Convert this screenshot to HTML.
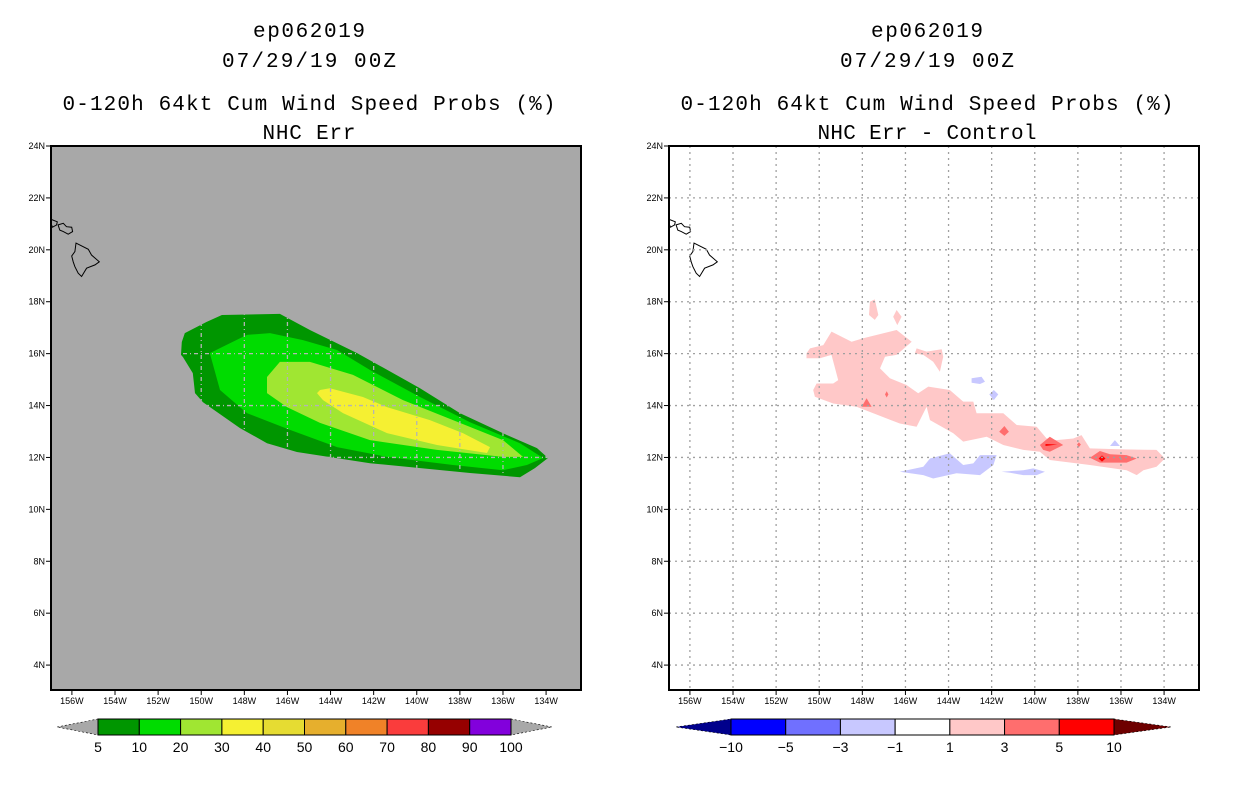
<!DOCTYPE html>
<html><head><meta charset="utf-8"><style>
html,body{margin:0;padding:0;background:#fff;}
svg{display:block;}
text{font-family:"Liberation Mono","DejaVu Sans Mono",monospace;fill:#000;}
.tk{font-family:"Liberation Sans",sans-serif;font-size:9px;}
.cb{font-family:"Liberation Sans",sans-serif;font-size:14px;}
</style></head><body>
<svg id="chart" width="1236" height="800" viewBox="0 0 1236 800" xmlns="http://www.w3.org/2000/svg">
<rect width="1236" height="800" fill="#fff"/>
<g text-anchor="middle" font-size="21">
<text x="309" y="37" textLength="112">ep062019</text>
<text x="309" y="67" textLength="174">07/29/19 00Z</text>
<text x="309" y="110" textLength="493">0-120h 64kt Cum Wind Speed Probs (%)</text>
<text x="309" y="139" textLength="93">NHC Err</text>
</g>
<g text-anchor="middle" font-size="21">
<text x="927" y="37" textLength="112">ep062019</text>
<text x="927" y="67" textLength="174">07/29/19 00Z</text>
<text x="927" y="110" textLength="493">0-120h 64kt Cum Wind Speed Probs (%)</text>
<text x="927" y="139" textLength="219">NHC Err - Control</text>
</g>
<g id="left"></g>
<g id="right"></g>
<g id="cbars"></g>
</svg>
<script>
// ---- data (lon in degrees W, lat in degrees N) ----
const lonTicks = [156,154,152,150,148,146,144,142,140,138,136,134];
const latTicks = [24,22,20,18,16,14,12,10,8,6,4];
const probLevels = ["5","10","20","30","40","50","60","70","80","90","100"];
const probColors = ["#009600","#00dc00","#a0e632","#f5f032","#e6dc32","#e6af2d","#f08228","#fa3c3c","#960000","#8200dc"];
const diffLevels = ["-10","-5","-3","-1","1","3","5","10"];
const diffColors = ["#0000ff","#7070ff","#c8c8ff","#ffffff","#ffc8c8","#ff6e6e","#ff0000"];
const prob5 = [[150.9,16.45],[150.76,16.79],[149.76,17.22],[149.04,17.49],[146.35,17.53],[144.96,16.91],[142.77,16.02],[139.85,14.67],[138.0,13.71],[135.81,12.86],[134.42,12.36],[133.91,11.98],[134.52,11.59],[135.21,11.24],[137.53,11.40],[142.17,11.78],[145.56,12.21],[146.95,12.55],[148.2,13.13],[149.92,14.13],[150.29,14.48],[150.39,15.25],[150.85,15.87],[150.94,15.95]];
const prob10 = [[146.81,16.79],[147.88,16.72],[149.6,16.02],[149.13,14.6],[147.88,13.71],[145.88,13.06],[143.7,12.4],[141.38,12.02],[138.32,11.71],[136.0,11.51],[134.89,11.71],[134.14,11.98],[135.21,12.55],[137.53,13.36],[139.85,14.33],[142.17,15.37],[143.7,16.14],[145.28,16.52]];
const prob20 = [[146.35,15.68],[146.95,15.10],[146.95,14.48],[146.02,13.94],[144.49,13.33],[142.17,12.67],[139.06,12.29],[136.0,12.02],[135.07,12.02],[136.0,12.67],[138.32,13.44],[140.64,14.21],[142.96,15.18],[144.96,15.68]];
const prob30 = [[144.63,14.48],[144.35,14.21],[143.42,13.71],[141.38,12.94],[139.06,12.48],[136.74,12.17],[136.6,12.4],[137.86,12.94],[139.39,13.44],[141.38,13.94],[142.5,14.33],[144.03,14.67],[144.49,14.6]];
const diffPos1 = [
[[150.59,16.01],[150.43,16.20],[149.81,16.33],[149.43,16.85],[148.5,16.46],[147.96,16.59],[146.41,16.91],[145.71,16.46],[146.41,15.95],[146.95,15.88],[147.18,15.43],[146.72,15.05],[145.95,14.79],[145.41,14.47],[144.94,14.73],[143.94,14.60],[143.32,14.15],[142.85,14.15],[142.7,13.70],[141.46,13.70],[140.84,13.25],[139.91,13.18],[139.45,12.73],[138.99,12.67],[138.21,12.73],[137.83,12.86],[137.44,12.35],[135.89,12.31],[134.35,12.29],[133.96,11.96],[134.35,11.64],[134.96,11.51],[135.27,11.32],[135.74,11.51],[137.44,11.71],[139.3,11.90],[139.76,12.22],[140.53,12.29],[141.46,12.48],[142.23,12.80],[143.32,12.61],[143.78,12.93],[144.86,13.44],[145.02,13.95],[145.48,13.18],[146.26,13.31],[147.49,13.70],[148.27,13.95],[149.35,14.08],[150.2,14.34],[150.28,14.60],[150.12,14.85],[149.35,14.85],[149.12,14.98],[149.43,15.95],[149.97,15.82],[150.59,15.82]],
[[147.65,18.0],[147.42,18.09],[147.26,17.49],[147.42,17.30],[147.69,17.49]],
[[146.41,17.68],[146.18,17.42],[146.38,17.1],[146.57,17.42]],
[[145.48,16.2],[145.02,16.08],[144.32,16.17],[144.25,15.88],[144.4,15.3],[144.71,15.69],[145.17,15.95],[145.56,16.01]]
];
const diffPos3 = [
[[148.03,13.95],[147.8,14.28],[147.57,13.95]],
[[146.95,14.43],[146.87,14.55],[146.79,14.43],[146.87,14.31]],
[[141.41,13.21],[141.2,12.99],[141.41,12.83],[141.65,12.99]],
[[139.76,12.48],[139.3,12.8],[138.68,12.48],[139.3,12.22],[139.61,12.29]],
[[138.04,12.50],[137.95,12.58],[137.86,12.50],[137.95,12.40]],
[[137.44,11.99],[136.98,12.25],[136.51,12.12],[135.74,12.09],[135.27,11.96],[135.74,11.80],[136.51,11.80],[136.98,11.80]]
];
const diffPos5 = [
[[139.5,12.52],[138.95,12.50],[139.5,12.44]],
[[136.88,12.08],[136.72,11.96],[136.88,11.84],[137.04,11.96]]
];
const diffNeg1 = [
[[146.26,11.45],[145.17,11.64],[144.86,11.96],[143.94,12.16],[143.32,11.71],[142.85,11.77],[142.54,12.09],[141.77,12.09],[141.92,11.71],[142.54,11.32],[143.63,11.39],[144.71,11.19],[145.17,11.32]],
[[141.54,11.45],[140.53,11.51],[140.07,11.58],[139.53,11.45],[139.91,11.32],[140.53,11.32],[141.15,11.41]],
[[142.93,15.05],[142.47,15.11],[142.31,14.92],[142.54,14.83],[142.93,14.88]],
[[141.9,14.6],[141.69,14.43],[141.9,14.21],[142.11,14.43]],
[[136.51,12.44],[136.28,12.67],[136.05,12.44]]
];
const islands = [
[[155.81,20.26],[155.24,20.02],[155.09,19.80],[154.73,19.54],[154.93,19.42],[155.32,19.29],[155.55,18.97],[155.71,19.10],[155.86,19.35],[155.94,19.54],[156.01,19.76],[155.86,19.93]],
[[156.64,20.96],[156.40,21.02],[156.25,20.89],[156.01,20.87],[155.97,20.70],[156.17,20.6],[156.4,20.70],[156.56,20.76]],
[[156.98,21.18],[156.68,21.08],[156.71,20.96],[156.9,20.87],[156.98,21.02]]
];
// ---- axes ----
const NS='http://www.w3.org/2000/svg';
const PW=530, TOP=146, BOT=690, LONL=156.97, LONR=132.38, LATT=24, LATB=3.04;
function xs(ox,lon){return ox+(LONL-lon)/(LONL-LONR)*PW;}
function ys(lat){return TOP+(LATT-lat)/(LATT-LATB)*(BOT-TOP);}
function mk(tag,attrs,parent){const e=document.createElementNS(NS,tag);for(const k in attrs)e.setAttribute(k,attrs[k]);parent.appendChild(e);return e;}
function pts(ox,poly){return poly.map(p=>xs(ox,p[0]).toFixed(1)+','+ys(p[1]).toFixed(1)).join(' ');}

function panel(g,ox,bg,gridCol,gridDash,layers,clipId,gridPoly){
  const defs=mk('defs',{},g);
  const cp=mk('clipPath',{id:clipId},defs);
  mk('rect',{x:ox,y:TOP,width:PW,height:BOT-TOP},cp);
  let gridClip='url(#'+clipId+')';
  if(gridPoly){
    const gcp=mk('clipPath',{id:clipId+'g'},defs);
    mk('polygon',{points:pts(ox,gridPoly)},gcp);
    gridClip='url(#'+clipId+'g)';
  }
  const bgr=mk('rect',{x:ox,y:TOP,width:PW,height:BOT-TOP,fill:bg},g);
  
  
  const cg=mk('g',{'clip-path':'url(#'+clipId+')'},g);
  layers.forEach(L=>{
    L.polys.forEach(poly=>{
      const p=mk('polygon',{points:pts(ox,poly),fill:L.color},cg);
      
      
    });
  });
  const gg=mk('g',{'clip-path':gridClip},g);
  lonTicks.forEach(l=>{
    const x=xs(ox,l);
    const ln=mk('line',{x1:x,y1:TOP,x2:x,y2:BOT,stroke:gridCol,'stroke-width':1.3,'stroke-dasharray':gridDash},gg);
    
    
    mk('line',{x1:x,y1:BOT,x2:x,y2:BOT+5,stroke:'#000','stroke-width':1},g);
    const t=mk('text',{x:x,y:BOT+14,'text-anchor':'middle',class:'tk'},g);
    t.textContent=l+'W';
    
    
  });
  latTicks.forEach(l=>{
    const y=ys(l);
    if(l<24){
      const ln=mk('line',{x1:ox,y1:y,x2:ox+PW,y2:y,stroke:gridCol,'stroke-width':1.3,'stroke-dasharray':gridDash},gg);
      
      
    }
    mk('line',{x1:ox-5,y1:y,x2:ox,y2:y,stroke:'#000','stroke-width':1},g);
    const t=mk('text',{x:ox-6,y:y+3,'text-anchor':'end',class:'tk'},g);
    t.textContent=l+'N';
    
    
  });
  islands.forEach(poly=>{
    const p=mk('polygon',{points:pts(ox,poly),fill:'none',stroke:'#000','stroke-width':1},cg);
    
    
  });
  const fr=mk('rect',{x:ox,y:TOP,width:PW,height:BOT-TOP,fill:'none',stroke:'#000','stroke-width':2},g);
  
  
}
panel(document.getElementById('left'),51,'#a8a8a8','#b4b4b4','4,3,1,3',[
  {polys:[prob5],color:probColors[0],name:'prob-5-10-area'},
  {polys:[prob10],color:probColors[1],name:'prob-10-20-area'},
  {polys:[prob20],color:probColors[2],name:'prob-20-30-area'},
  {polys:[prob30],color:probColors[3],name:'prob-30-40-area'}
],'clipL',prob5);
panel(document.getElementById('right'),669,'#ffffff','#a0a0a0','2,4',[
  {polys:diffPos1,color:diffColors[4],name:'diff-1-3-area'},
  {polys:diffNeg1,color:diffColors[2],name:'diff-neg1-neg3-area'},
  {polys:diffPos3,color:diffColors[5],name:'diff-3-5-area'},
  {polys:diffPos5,color:diffColors[6],name:'diff-5-10-area'}
],'clipR',null);
// ---- colorbars ----
function colorbar(g,x0,x1,tl,tr,cols,labels,lowCol,highCol,name){
  const y0=719,y1=735,ym=727;
  const w=(x1-x0)/cols.length;
  const a=mk('polygon',{points:`${tl},${ym} ${x0},${y0} ${x0},${y1}`,fill:lowCol,stroke:'#000','stroke-width':0.6,'stroke-dasharray':'2,2'},g);
  
  
  const b=mk('polygon',{points:`${tr},${ym} ${x1},${y0} ${x1},${y1}`,fill:highCol,stroke:'#000','stroke-width':0.6,'stroke-dasharray':'2,2'},g);
  
  
  cols.forEach((c,i)=>{
    const r=mk('rect',{x:x0+i*w,y:y0,width:w,height:y1-y0,fill:c,stroke:'#000','stroke-width':1},g);
    
    
  });
  labels.forEach((l,i)=>{
    const t=mk('text',{x:x0+i*w,y:752,'text-anchor':'middle',class:'cb'},g);
    t.textContent=l.replace('-','\u2212');
    
    
  });
}
const cg=document.getElementById('cbars');
colorbar(cg,98,511,57,552,probColors,probLevels,'#a8a8a8','#a8a8a8','prob-colorbar');
colorbar(cg,731,1114,676,1171,diffColors,diffLevels,'#00008c','#6e0000','diff-colorbar');
</script>
</body></html>
